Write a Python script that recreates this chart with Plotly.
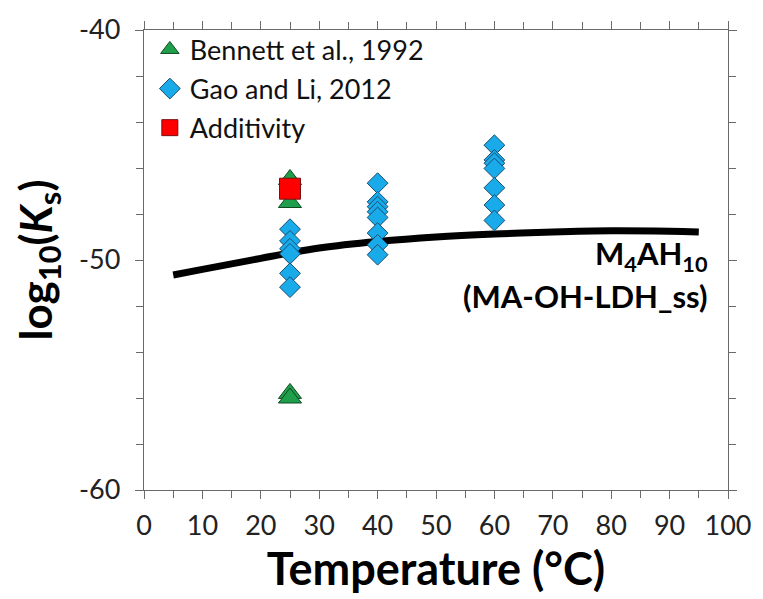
import plotly.graph_objects as go

# Solubility data, log10(Ks) versus temperature
bennett_t = [25, 25, 25, 25]
bennett_logk = [-46.5, -47.5, -55.8, -56.0]

gao_t = [25, 25, 25, 25, 25, 25,
         40, 40, 40, 40, 40, 40, 40, 40,
         60, 60, 60, 60, 60, 60, 60]
gao_logk = [-48.66, -49.17, -49.51, -49.73, -50.58, -51.18,
            -46.66, -47.47, -47.68, -47.90, -48.15, -48.83, -49.34, -49.77,
            -45.01, -45.65, -45.79, -46.02, -46.86, -47.61, -48.28]

additivity_t = [25]
additivity_logk = [-46.9]

# Solid-solution model curve
model_t = [5, 10, 15, 20, 25, 30, 40, 50, 60, 70, 80, 90, 95]
model_logk = [-50.65, -50.41, -50.17, -49.93, -49.69, -49.48, -49.2,
              -49.0, -48.87, -48.78, -48.73, -48.75, -48.78]

y_ticks = [-60, -50, -40]
y_tick_text = ["-60", "-50", "-40"]
x_ticks = list(range(0, 101, 10))

FONT = "Lato"

fig = go.Figure()

fig.add_trace(go.Scatter(
    x=model_t, y=model_logk, mode="lines",
    line=dict(color="black", width=7, shape="spline"),
    showlegend=False, hoverinfo="skip"))

fig.add_trace(go.Scatter(
    x=bennett_t, y=bennett_logk, mode="markers", name="Bennett et al., 1992",
    legendgroup="a",
    marker=dict(symbol="triangle-up", size=20, color="#1f9e4b",
                line=dict(color="#0f4a22", width=1))))

fig.add_trace(go.Scatter(
    x=gao_t, y=gao_logk, mode="markers", name="Gao and Li, 2012",
    legendgroup="b",
    marker=dict(symbol="diamond", size=16, color="#18aae9",
                line=dict(color="#1a4c70", width=1))))

fig.add_trace(go.Scatter(
    x=additivity_t, y=additivity_logk, mode="markers", name="Additivity",
    legendgroup="c",
    marker=dict(symbol="square", size=21, color="#ff0000",
                line=dict(color="#7a1010", width=1))))

axis_common = dict(
    showline=True, linecolor="#6a6a6a", linewidth=1.3,
    mirror="ticks", ticks="outside", ticklen=8, tickcolor="#6a6a6a",
    tickwidth=1.3, showgrid=False, zeroline=False,
    tickfont=dict(family=FONT, size=27, color="#222222"),
)

fig.update_xaxes(
    range=[0, 100], tickvals=x_ticks, ticklabelstandoff=3,
    minor=dict(dtick=5, ticks="outside", ticklen=7, tickcolor="#6a6a6a",
               tickwidth=1.3, showgrid=False),
    title=dict(text="<b>Temperature (°C)</b>",
               font=dict(family=FONT, size=45, color="black"), standoff=10),
    **axis_common)

fig.update_yaxes(
    range=[-60, -40], tickvals=y_ticks, ticktext=y_tick_text,
    ticklabelstandoff=9,
    minor=dict(dtick=2, ticks="outside", ticklen=7, tickcolor="#6a6a6a",
               tickwidth=1.3, showgrid=False),
    title=dict(text="<b>log<sub>10</sub>(<i>K</i><sub>s</sub>)</b>",
               font=dict(family=FONT, size=44, color="black"), standoff=12),
    **axis_common)

fig.add_annotation(
    x=0.97, y=0.51, xref="paper", yref="paper", xanchor="right", yanchor="middle",
    text="<b>M<sub>4</sub>AH<sub>10</sub></b>", showarrow=False,
    font=dict(family=FONT, size=31, color="black"))
fig.add_annotation(
    x=0.97, y=0.422, xref="paper", yref="paper", xanchor="right", yanchor="middle",
    text="<b>(MA-OH-LDH_ss)</b>", showarrow=False,
    font=dict(family=FONT, size=31, color="black"))

fig.update_layout(
    width=763, height=599,
    margin=dict(l=144, r=27, t=21, b=109),
    paper_bgcolor="white", plot_bgcolor="white",
    showlegend=True,
    legend=dict(x=0.01, y=1.01, xanchor="left", yanchor="top",
                bgcolor="rgba(0,0,0,0)", tracegroupgap=1,
                font=dict(family=FONT, size=27, color="#111111"),
                itemsizing="trace"),
)

fig.write_html("out.html")
